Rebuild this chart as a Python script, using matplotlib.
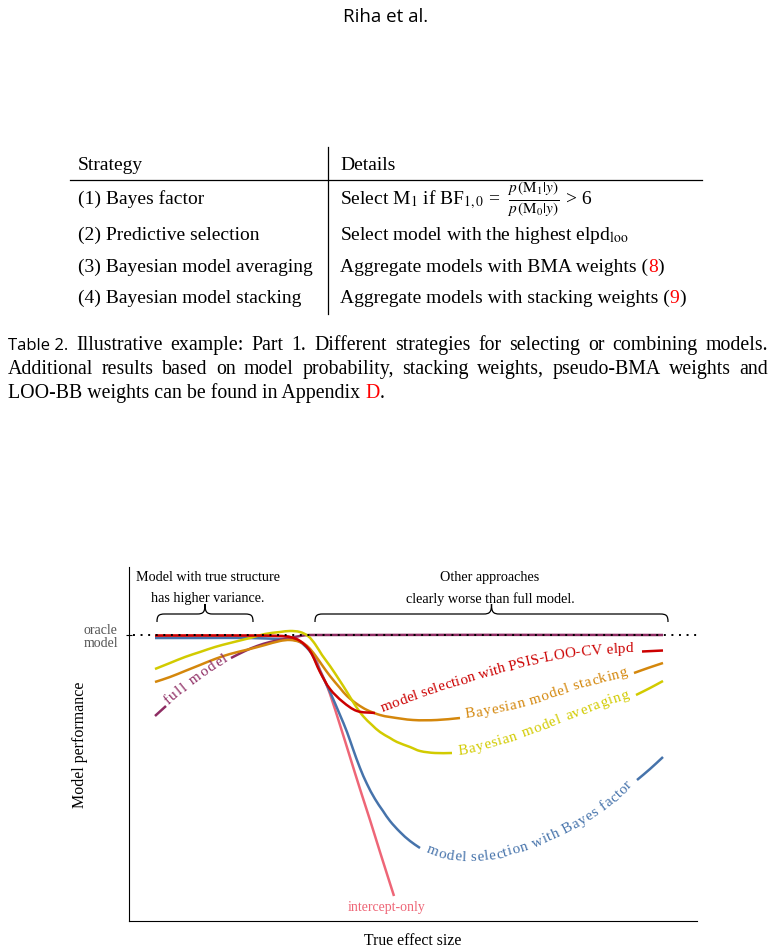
import numpy as np
import matplotlib
matplotlib.use("Agg")
import matplotlib.pyplot as plt
from matplotlib.path import Path
from matplotlib.patches import PathPatch
from matplotlib.font_manager import FontProperties

plt.rcParams['mathtext.fontset'] = 'stix'
plt.rcParams['text.usetex'] = False
plt.rcParams['font.family'] = ['Liberation Serif', 'DejaVu Serif']

# ---------------------------------------------------------------- data
header_text = "Riha et al."
table_columns = ["Strategy", "Details"]
table_strategies = ["(1) Bayes factor", "(2) Predictive selection",
                    "(3) Bayesian model averaging", "(4) Bayesian model stacking"]
# runs: (text, colour, size scale)
table_details = [
    [(r"Select M$_1$ if BF$_{1,0}$ =", "black", 1.0),
     (r"$\frac{p\,(\mathrm{M}_1|y)}{p\,(\mathrm{M}_0|y)}$", "black", 1.12),
     (r"> 6", "black", 1.0)],
    [(r"Select model with the highest elpd$_{\mathrm{loo}}$", "black", 1.0)],
    [("Aggregate models with BMA weights (", "black", 1.0), ("8", "red", 1.0), (")", "black", 1.0)],
    [("Aggregate models with stacking weights (", "black", 1.0), ("9", "red", 1.0), (")", "black", 1.0)],
]
table_detail_gaps = [[1.3, 1.3], [], [0, 0], [0, 0]]   # spaces between runs
caption_label = "Table 2."
caption_lines = [
    "Illustrative example: Part 1. Different strategies for selecting or combining models.",
    "Additional results based on model probability, stacking weights, pseudo-BMA weights and",
    "LOO-BB weights can be found in Appendix",
]
caption_ref = "D"

oracle_level = 0.0

# model selection with Bayes factor
bf_x = [0, 4.5, 9.5, 12.5, 13.5, 14.5, 15.3, 15.8, 16.5, 17.5, 18.5, 19.2, 19.8, 20.5, 21.2,
        22.0, 22.8, 23.5, 24.5, 25.5, 26.5, 27.5, 29.0, 30.7, 32.5, 34.5, 37.0, 39.0, 41.0,
        43.0, 45.0, 46.5, 48.2, 49.5, 50.8]
bf_y = [-0.3, -0.3, -0.3, -0.4, -0.4, -0.7, -1.4, -2.1, -3.6, -5.7, -8.0, -9.7, -11.4, -13.3, -14.9,
        -16.4, -17.6, -18.6, -19.7, -20.6, -21.3, -21.8, -22.3, -22.5, -22.5, -22.2, -21.5, -20.7, -19.8,
        -18.7, -17.4, -16.2, -14.5, -13.4, -12.2]

# model selection with PSIS-LOO-CV elpd
loo_x = [0, 9.5, 12.5, 13.5, 14.5, 15.5, 16.5, 17.5, 18.8, 20.2, 22.0, 22.8, 24.5, 26.8, 28.5,
         30.5, 32.5, 34.5, 36.5, 38.5, 40.5, 42.5, 44.5, 46.5, 48.7, 50.8]
loo_y = [-0.05, -0.05, -0.1, -0.2, -0.6, -1.6, -3.7, -5.4, -6.7, -7.6, -7.8, -7.6, -6.9, -6.1, -5.5,
         -4.9, -4.3, -3.7, -3.2, -2.7, -2.3, -2.0, -1.8, -1.65, -1.65, -1.55]

# Bayesian model stacking
stack_x = [0, 1.5, 3.0, 4.5, 6.0, 7.5, 9.5, 11.0, 12.5, 13.5, 14.5, 15.3, 16.0, 16.7, 17.5, 18.5,
           19.2, 20.2, 21.2, 22.5, 23.5, 25.8, 28.2, 30.5, 32.5, 34.0, 35.5, 36.8, 38.5, 40.0,
           41.5, 43.0, 44.5, 46.0, 47.2, 47.9, 49.3, 50.8]
stack_y = [-4.7, -4.2, -3.6, -3.0, -2.4, -1.9, -1.4, -1.0, -0.6, -0.5, -0.7, -1.2, -2.0, -3.0, -4.1, -5.3,
           -6.1, -6.9, -7.5, -8.0, -8.2, -8.5, -8.5, -8.3, -8.0, -7.7, -7.4, -7.1, -6.6, -6.1,
           -5.6, -5.1, -4.7, -4.3, -4.0, -3.8, -3.3, -2.8]

# Bayesian model averaging
bma_x = [0, 1.5, 3.0, 4.5, 6.0, 7.5, 9.5, 11.0, 12.5, 13.5, 14.5, 15.3, 16.0, 16.7, 17.5, 18.5,
         19.2, 20.0, 20.8, 21.7, 22.5, 23.5, 24.2, 25.5, 26.5, 28.0, 29.7, 30.5, 32.0, 33.5,
         35.5, 37.2, 39.0, 40.7, 42.5, 44.0, 45.5, 47.3, 48.1, 49.5, 50.8]
bma_y = [-3.4, -2.8, -2.2, -1.7, -1.2, -0.8, -0.3, 0.1, 0.3, 0.4, 0.3, -0.1, -0.9, -2.0, -3.1, -4.6,
         -5.7, -7.0, -8.1, -9.0, -9.7, -10.3, -10.7, -11.2, -11.6, -11.8, -11.8, -11.9, -11.6, -11.2,
         -10.6, -10.0, -9.3, -8.6, -8.0, -7.4, -6.8, -6.2, -6.0, -5.3, -4.6]

# full model
full_x = [0, 1.1, 2.0, 3.0, 4.0, 5.0, 6.0, 7.0, 7.6, 9.0, 10.2, 11.5, 12.5, 13.5, 14.5, 15.5, 50.8]
full_y = [-8.1, -7.1, -6.3, -5.5, -4.7, -4.0, -3.3, -2.7, -2.3, -1.6, -1.1, -0.7, -0.5, -0.3, -0.1, 0.0, 0.0]

# intercept-only
icpt_x = [0, 12.5, 13.5, 14.5, 15.3, 16.0, 16.5, 17.0, 17.5, 18.5, 19.5, 20.5, 21.5, 22.5, 23.9]
icpt_y = [-0.1, -0.1, -0.2, -0.6, -1.2, -2.2, -3.5, -4.6, -5.9, -9.0, -12.2, -15.4, -18.5, -21.7, -26.1]

# ---------------------------------------------------------------- styles
C_BLUE = '#4673AB'
C_PINK = '#EE6677'
C_RED = '#CC0000'
C_ORANGE = '#D4870C'
C_YELLOW = '#D2CB00'
C_PURPLE = '#8E2C63'

W, H = 774, 953
fig = plt.figure(figsize=(W / 100, H / 100), dpi=100)
fig.patch.set_facecolor('white')
renderer = fig.canvas.get_renderer()

TABLE_SIZE = 14
SERIF = FontProperties(family=['Liberation Serif'], size=TABLE_SIZE)
CAP_SERIF = FontProperties(family=['Liberation Serif'], size=14.3)
SANS_HDR = FontProperties(family=['Open Sans'], size=13.5)
SANS_CAP = FontProperties(family=['Open Sans'], size=12)


def fx(px):
    return px / W


def fy(py):
    return 1 - py / H


def text_width(s, prop, ismath=False):
    w, h, d = renderer.get_text_width_height_descent(s, prop, ismath=ismath)
    return w


def space_width(prop):
    return text_width("n n", prop) - text_width("nn", prop)


def put_runs(runs, x_px, base_py, base_size, gaps=None):
    x = x_px
    base_prop = FontProperties(family=['Liberation Serif'], size=base_size)
    spw = space_width(base_prop)
    for k, (s, col, scale) in enumerate(runs):
        prop = FontProperties(family=['Liberation Serif'], size=base_size * scale)
        ismath = '$' in s
        fig.text(fx(x), fy(base_py), s, fontproperties=prop, color=col,
                 ha='left', va='baseline')
        x += text_width(s, prop, ismath=ismath)
        if gaps and k < len(gaps):
            x += gaps[k] * spw
    return x


def justify(words, x0, x1, base_py):
    widths = [text_width(w, p) for w, p, c in words]
    gap = (x1 - x0 - sum(widths)) / (len(words) - 1)
    x = x0
    for (w, p, c), wd in zip(words, widths):
        fig.text(fx(x), fy(base_py), w, fontproperties=p, color=c, ha='left', va='baseline')
        x += wd + gap


# ---------------------------------------------------------------- header
fig.text(fx(386), fy(22), header_text, fontproperties=SANS_HDR, ha='center', va='baseline')

# ---------------------------------------------------------------- table
col_x = [78, 340]
row_base = [170, 204, 240, 272, 303]
fig.text(fx(col_x[0]), fy(row_base[0]), table_columns[0], fontproperties=SERIF, ha='left', va='baseline')
fig.text(fx(col_x[1]), fy(row_base[0]), table_columns[1], fontproperties=SERIF, ha='left', va='baseline')
for i, (strat, det, gp) in enumerate(zip(table_strategies, table_details, table_detail_gaps)):
    fig.text(fx(col_x[0]), fy(row_base[i + 1]), strat, fontproperties=SERIF, ha='left', va='baseline')
    put_runs(det, col_x[1], row_base[i + 1], TABLE_SIZE, gp)
fig.add_artist(plt.Line2D([fx(70), fx(702)], [fy(181), fy(181)], color='black', lw=0.9))
fig.add_artist(plt.Line2D([fx(328), fx(328)], [fy(148), fy(315)], color='black', lw=0.9))

# ---------------------------------------------------------------- caption
line1 = [(caption_label, SANS_CAP, 'black')] + [(w, CAP_SERIF, 'black') for w in caption_lines[0].split()]
justify(line1, 8, 768, 350)
line2 = [(w, CAP_SERIF, 'black') for w in caption_lines[1].split()]
justify(line2, 8, 768, 374)
put_runs([(caption_lines[2], 'black', 1.0), (caption_ref, 'red', 1.0), (".", 'black', 1.0)],
         8, 398, 14.3, [1, 0])

# ---------------------------------------------------------------- chart
ax = fig.add_axes([fx(129), fy(922), (697 - 129) / W, (922 - 568) / H])
ax.set_xlim(-2.6, 54.2)
ax.set_ylim(-28.6, 6.8)
ax.set_facecolor('none')
for s in ['top', 'right']:
    ax.spines[s].set_visible(False)
for s in ['left', 'bottom']:
    ax.spines[s].set_linewidth(0.8)
ax.set_xticks([])
ax.set_yticks([oracle_level])
ax.set_yticklabels(['oracle\nmodel'], color='#555555', fontsize=10, linespacing=1.0,
                   multialignment='center')
ax.tick_params(axis='y', direction='inout', length=4.5, width=0.8, pad=5.5)
ax.set_ylabel("Model performance", fontsize=11.5)
ax.yaxis.set_label_coords((88 - 129) / 568, 0.5)
ax.set_xlabel("True effect size", fontsize=11.3)
ax.xaxis.set_label_coords(0.5, (922 - 933) / 354)

LW = 1.8


def smooth_path(xs, ys):
    """Bezier path through the read points (tangents from neighbours, display space)."""
    P = ax.transData.transform(np.column_stack([xs, ys]))
    n = len(P)
    T = np.zeros_like(P)
    for i in range(n):
        a = P[max(i - 1, 0)]
        b = P[min(i + 1, n - 1)]
        v = b - a
        T[i] = v / (np.hypot(*v) + 1e-9)
    verts = [P[0]]
    codes = [Path.MOVETO]
    for i in range(n - 1):
        L = np.hypot(*(P[i + 1] - P[i])) / 3.0
        verts += [P[i] + T[i] * L, P[i + 1] - T[i + 1] * L, P[i + 1]]
        codes += [Path.CURVE4] * 3
    dverts = ax.transData.inverted().transform(np.array(verts))
    return Path(dverts, codes)


def draw_with_gap(xs, ys, gap, color, lw, zorder):
    xs = np.asarray(xs, float)
    ys = np.asarray(ys, float)
    pieces = []
    if gap is None:
        pieces.append((xs, ys))
    else:
        i0 = int(np.argmin(np.abs(xs - gap[0])))
        i1 = int(np.argmin(np.abs(xs - gap[1])))
        pieces.append((xs[:i0 + 1], ys[:i0 + 1]))
        pieces.append((xs[i1:], ys[i1:]))
    for px, py in pieces:
        ax.add_patch(PathPatch(smooth_path(px, py), fill=False, edgecolor=color, lw=lw,
                               capstyle='butt', joinstyle='round', zorder=zorder))


def text_along(xs, ys, gap, text, pad0, pad1, color, size=10.8):
    xs = np.asarray(xs, float)
    ys = np.asarray(ys, float)
    pts = ax.transData.transform(np.column_stack([xs, ys]))
    seg = np.diff(pts, axis=0)
    s = np.concatenate([[0], np.cumsum(np.hypot(seg[:, 0], seg[:, 1]))])
    i0 = int(np.argmin(np.abs(xs - gap[0])))
    i1 = int(np.argmin(np.abs(xs - gap[1])))
    s0 = s[i0] + pad0
    s1 = s[i1] - pad1
    prop = FontProperties(family=['Liberation Serif'], size=size)
    spw = space_width(prop)
    widths = [spw if c == ' ' else text_width(c, prop) for c in text]
    g = (s1 - s0 - sum(widths)) / (len(text) - 1)
    pos = s0
    fw, fh = fig.bbox.width, fig.bbox.height
    for c, w in zip(text, widths):
        sc = pos + w / 2
        px = np.interp(sc, s, pts[:, 0])
        py = np.interp(sc, s, pts[:, 1])
        d = 8
        xa, ya = np.interp(sc - d, s, pts[:, 0]), np.interp(sc - d, s, pts[:, 1])
        xb, yb = np.interp(sc + d, s, pts[:, 0]), np.interp(sc + d, s, pts[:, 1])
        ang = np.degrees(np.arctan2(yb - ya, xb - xa))
        if c != ' ':
            fig.text(px / fw, py / fh, c, fontproperties=prop, color=color, rotation=ang,
                     rotation_mode='anchor', ha='center', va='baseline')
        pos += w + g


series = [
    (icpt_x, icpt_y, C_PINK, None, None, (0, 0), 2),
    (bf_x, bf_y, C_BLUE, (26.5, 48.2), "model selection with Bayes factor", (7, 6), 3),
    (full_x, full_y, C_PURPLE, (1.1, 7.6), "full model", (3, 3), 4),
    (stack_x, stack_y, C_ORANGE, (30.5, 47.9), "Bayesian model stacking", (6, 6), 5),
    (bma_x, bma_y, C_YELLOW, (29.7, 48.1), "Bayesian model averaging", (7, 7), 6),
    (loo_x, loo_y, C_RED, (22.0, 48.7), "model selection with PSIS-LOO-CV elpd", (8, 9), 7),
]
for xs, ys, col, gap, lab, pads, z in series:
    draw_with_gap(xs, ys, gap, color=col, lw=LW, zorder=z)
    if lab:
        text_along(xs, ys, gap, lab, pads[0], pads[1], col)

ax.plot([-2.2, 54.5], [oracle_level, oracle_level], color='black', lw=1.4,
        linestyle=(0, (1, 2.9)), dash_capstyle='butt', clip_on=False, zorder=10)

ax.text(23.2, -27.2, "intercept-only", color=C_PINK, fontsize=10, ha='center', va='center')

ax.text(5.3, 5.8, "Model with true structure", fontsize=10.2, ha='center', va='center')
ax.text(5.3, 3.7, "has higher variance.", fontsize=10.2, ha='center', va='center')
ax.text(33.5, 5.8, "Other approaches", fontsize=10.2, ha='center', va='center')
ax.text(33.5, 3.7, "clearly worse than full model.", fontsize=10.2, ha='center', va='center')


def brace(x0, x1, ybase, h1=8.0, h2=10.0, r=8.0):
    (X0, Y0) = ax.transData.transform((x0, ybase))
    (X1, _) = ax.transData.transform((x1, ybase))
    Xm = (X0 + X1) / 2
    Ya = Y0 + h1
    Yt = Ya + h2
    verts = [(X0, Y0),
             (X0, Y0 + h1 * 0.8), (X0 + r * 0.2, Ya), (X0 + r, Ya),
             (Xm - r, Ya),
             (Xm - r * 0.2, Ya), (Xm, Ya + h2 * 0.2), (Xm, Yt),
             (Xm, Ya + h2 * 0.2), (Xm + r * 0.2, Ya), (Xm + r, Ya),
             (X1 - r, Ya),
             (X1 - r * 0.2, Ya), (X1, Y0 + h1 * 0.8), (X1, Y0)]
    codes = [Path.MOVETO, Path.CURVE4, Path.CURVE4, Path.CURVE4, Path.LINETO,
             Path.CURVE4, Path.CURVE4, Path.CURVE4, Path.CURVE4, Path.CURVE4, Path.CURVE4,
             Path.LINETO, Path.CURVE4, Path.CURVE4, Path.CURVE4]
    inv = ax.transData.inverted()
    dverts = inv.transform(np.array(verts))
    ax.add_patch(PathPatch(Path(dverts, codes), fill=False, lw=0.9, color='black',
                           clip_on=False, zorder=8))


brace(0.2, 9.8, 1.3)
brace(16.0, 51.3, 1.3)

fig.savefig("out.png", dpi=100)
